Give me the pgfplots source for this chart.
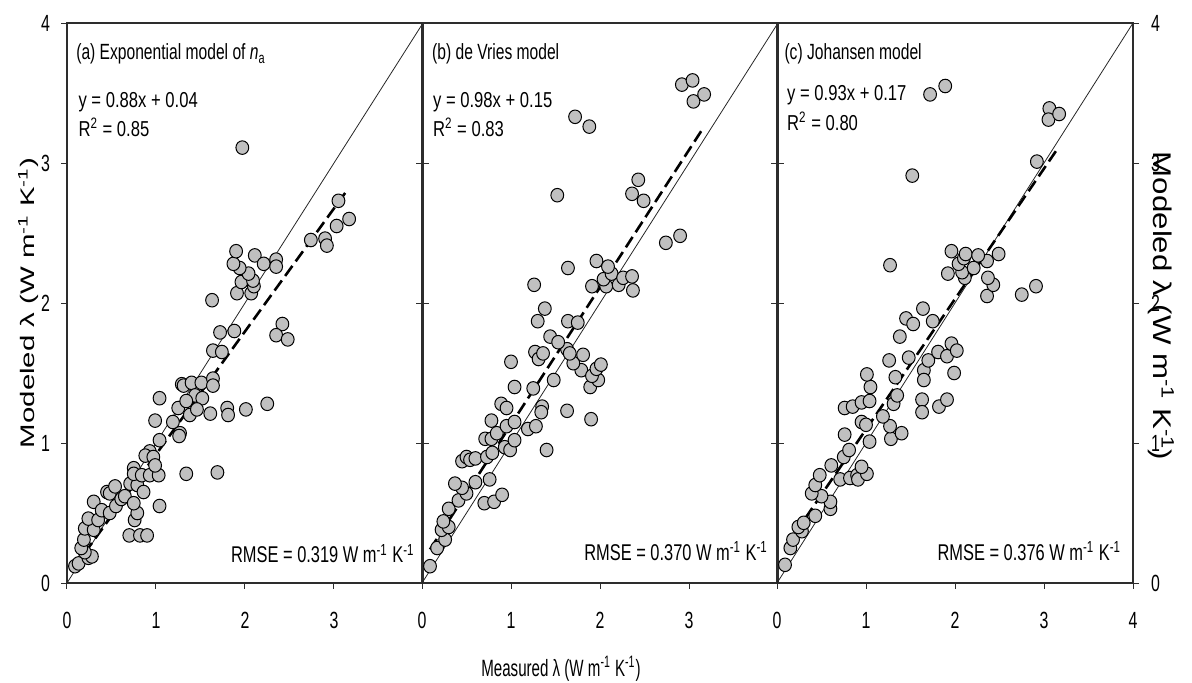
\documentclass[border=0pt]{standalone}
\usepackage{fontspec}
\setmainfont{Liberation Sans}[FakeStretch=0.77]
\newfontfamily\titlefont{Liberation Sans}[FakeStretch=0.71]
\newfontfamily\rmsefont{Liberation Sans}[FakeStretch=0.72]
\newfontfamily\tickfont{Liberation Sans}[FakeStretch=0.68]
\newfontfamily\xlabfont{Liberation Sans}[FakeStretch=0.64]
\newfontfamily\ylabfont{Liberation Sans}[FakeStretch=1.5]
\newfontfamily\ylabRfont{Liberation Sans}[FakeStretch=1.22]
\usepackage{pgfplots}
\pgfplotsset{compat=1.18}
\definecolor{ptgray}{RGB}{192,192,192}
\definecolor{frame}{RGB}{45,45,45}

\pgfplotsset{
  panel/.style={
    scale only axis, width=178pt, height=280pt,
    anchor=south west,
    xmin=0, xmax=4, ymin=0, ymax=4,
    ytick={0,1,2,3,4},
    tick align=outside,
    xtick pos=left,
    major tick length=2.8pt,
    axis line style={frame, line width=0.7pt},
    every tick/.style={frame, line width=0.5pt},
    /pgf/number format/assume math mode=true,
    tick label style={font=\tickfont\fontsize{11.7}{13}\selectfont, inner sep=0pt},
    xticklabel style={anchor=base, yshift=-20pt},
  },
  pts/.style={only marks, mark=*, mark size=3.2pt,
    mark options={fill=ptgray, draw=black, line width=0.5pt, yscale=1.06}},
  oneone/.style={black!85, line width=0.4pt},
  fit/.style={black, line width=1.3pt, dash pattern=on 6.2pt off 2.8pt},
}
\tikzset{lab/.style={inner sep=0pt}}
\newcommand{\txt}{\fontsize{10.8}{12}\selectfont}
\newcommand{\ttl}{\titlefont\fontsize{11}{12}\selectfont}
\newcommand{\rmse}{\rmsefont\fontsize{11.4}{12}\selectfont}
\newcommand{\unit}{W m\textsuperscript{-1} K\textsuperscript{-1}}

\begin{document}
\begin{tikzpicture}
\useasboundingbox (-33.5pt,-49.5pt) rectangle (562.5pt,291.5pt);

% (a) exponential model
\begin{axis}[panel, at={(0pt,0pt)}, xtick={0,1,2,3},
  yticklabel pos=left, yticklabel style={anchor=east, xshift=-5.5pt}]
\addplot[pts] coordinates {
(0.09,0.12)(0.13,0.14)(0.24,0.18)(0.28,0.19)(0.20,0.22)(0.16,0.25)(0.19,0.31)
(0.20,0.39)(0.30,0.38)(0.24,0.46)(0.35,0.45)(0.30,0.58)(0.39,0.52)(0.48,0.50)
(0.55,0.55)(0.45,0.65)(0.48,0.64)(0.54,0.69)(0.61,0.60)(0.65,0.62)(0.70,0.34)
(0.82,0.34)(0.90,0.34)(0.76,0.45)(0.79,0.50)(0.75,0.57)(1.04,0.55)(0.71,0.71)
(0.79,0.70)(0.86,0.65)(0.75,0.82)(0.75,0.78)(0.84,0.77)(0.93,0.77)(1.03,0.77)
(1.34,0.78)(1.69,0.79)(0.93,0.94)(0.88,0.91)(0.97,0.90)(0.99,0.84)(1.04,1.02)
(0.99,1.16)(1.19,1.15)(1.27,1.07)(1.26,1.05)(1.04,1.32)(1.25,1.25)(1.29,1.42)
(1.31,1.41)(1.40,1.43)(1.51,1.43)(1.64,1.46)(1.64,1.41)(1.44,1.34)(1.52,1.32)
(1.34,1.30)(1.38,1.20)(1.46,1.24)(1.61,1.21)(1.80,1.25)(1.81,1.20)(2.01,1.24)
(2.25,1.28)(1.64,1.66)(1.74,1.65)(1.72,1.79)(1.88,1.80)(2.42,1.85)(2.35,1.77)
(2.48,1.74)(1.63,2.02)(1.91,2.07)(2.07,2.07)(2.10,2.12)(1.96,2.15)(2.09,2.16)
(2.04,2.21)(1.94,2.25)(1.87,2.28)(1.90,2.37)(2.11,2.34)(2.21,2.28)(2.35,2.31)
(2.35,2.26)(2.74,2.45)(2.90,2.46)(2.92,2.41)(3.03,2.55)(3.17,2.60)(3.05,2.73)
(1.97,3.11)
};
\addplot[oneone] coordinates {(0,0)(4,4)};
\addplot[fit] coordinates {(0.08,0.11)(3.13,2.79)};
\node[lab, anchor=base west, font=\ttl] at (axis cs:0.10,3.736) {(a) Exponential model of \textit{n}\textsubscript{a}};
\node[lab, anchor=base west, font=\txt] at (axis cs:0.125,3.40) {y = 0.88x + 0.04};
\node[lab, anchor=base west, font=\txt] at (axis cs:0.125,3.19) {R\textsuperscript{2} = 0.85};
\node[lab, anchor=base east, font=\rmse] at (axis cs:3.91,0.143) {RMSE = 0.319 \unit};
\end{axis}

% (b) de Vries model
\begin{axis}[panel, at={(177.5pt,0pt)}, xtick={0,1,2,3}, yticklabels={}]
\addplot[pts] coordinates {
(0.09,0.12)(0.17,0.25)(0.26,0.31)(0.22,0.38)(0.30,0.40)(0.24,0.44)(0.30,0.53)
(0.41,0.59)(0.50,0.64)(0.45,0.68)(0.37,0.71)(0.60,0.72)(0.76,0.74)(0.70,0.57)
(0.81,0.58)(0.90,0.63)(0.45,0.87)(0.50,0.90)(0.54,0.88)(0.60,0.89)(0.73,0.90)
(0.79,0.93)(0.93,0.97)(0.99,0.95)(1.40,0.95)(0.71,1.03)(0.78,1.03)(0.84,1.07)
(1.04,1.02)(0.95,1.12)(0.78,1.16)(1.04,1.15)(1.19,1.10)(1.28,1.12)(0.89,1.28)
(0.95,1.25)(1.35,1.26)(1.34,1.22)(1.63,1.23)(1.90,1.17)(1.04,1.40)(1.25,1.39)
(1.48,1.45)(1.89,1.40)(1.98,1.45)(1.79,1.52)(1.91,1.48)(1.96,1.53)(2.01,1.56)
(1.00,1.58)(1.27,1.65)(1.31,1.60)(1.36,1.64)(1.70,1.57)(1.81,1.63)(1.63,1.67)
(1.66,1.64)(1.44,1.76)(1.53,1.72)(1.30,1.87)(1.64,1.87)(1.75,1.86)(1.38,1.96)
(1.26,2.13)(1.64,2.25)(1.91,2.12)(2.07,2.12)(2.04,2.17)(2.13,2.21)(2.21,2.13)
(2.26,2.18)(2.36,2.19)(2.37,2.09)(1.96,2.30)(2.09,2.26)(2.74,2.43)(2.90,2.48)
(1.52,2.77)(2.36,2.78)(2.43,2.88)(2.49,2.73)(1.72,3.33)(1.88,3.26)(2.92,3.56)
(3.04,3.59)(3.05,3.44)(3.17,3.49)
};
\addplot[oneone] coordinates {(0,0)(4,4)};
\addplot[fit] coordinates {(0.09,0.24)(3.17,3.26)};
\node[lab, anchor=base west, font=\ttl] at (axis cs:0.11,3.736) {(b) de Vries model};
\node[lab, anchor=base west, font=\txt] at (axis cs:0.12,3.40) {y = 0.98x + 0.15};
\node[lab, anchor=base west, font=\txt] at (axis cs:0.12,3.19) {R\textsuperscript{2} = 0.83};
\node[lab, anchor=base east, font=\rmse] at (axis cs:3.89,0.164) {RMSE = 0.370 \unit};
\end{axis}

% (c) Johansen model
\begin{axis}[panel, at={(355pt,0pt)}, xtick={0,1,2,3,4},
  yticklabel pos=right, yticklabel style={anchor=west, xshift=6pt}]
\addplot[pts] coordinates {
(0.09,0.13)(0.15,0.25)(0.18,0.31)(0.28,0.37)(0.24,0.40)(0.30,0.43)(0.43,0.48)
(0.60,0.53)(0.60,0.58)(0.50,0.62)(0.39,0.64)(0.43,0.70)(0.48,0.77)(0.71,0.74)
(0.82,0.75)(0.90,0.77)(0.91,0.74)(1.01,0.78)(0.95,0.83)(0.61,0.84)(0.75,0.90)
(0.81,0.95)(1.04,1.01)(0.76,1.06)(1.28,1.03)(1.40,1.07)(1.27,1.12)(0.95,1.15)
(1.00,1.13)(1.19,1.19)(0.76,1.25)(0.85,1.26)(0.95,1.29)(1.04,1.30)(1.31,1.28)
(1.35,1.34)(1.63,1.31)(1.63,1.22)(1.82,1.26)(1.91,1.31)(1.05,1.40)(1.01,1.49)
(1.33,1.47)(1.65,1.52)(1.65,1.45)(1.99,1.50)(1.26,1.59)(1.48,1.61)(1.70,1.59)
(1.81,1.65)(1.91,1.62)(1.96,1.71)(2.02,1.66)(1.38,1.76)(1.45,1.89)(1.53,1.85)
(1.75,1.87)(1.64,1.96)(2.36,2.05)(2.75,2.06)(2.91,2.12)(2.43,2.13)(2.37,2.18)
(2.11,2.18)(1.92,2.21)(2.08,2.22)(2.21,2.25)(2.04,2.28)(2.10,2.32)(2.36,2.30)
(1.96,2.37)(2.12,2.35)(2.26,2.34)(2.49,2.35)(1.27,2.27)(1.52,2.91)(2.92,3.01)
(3.06,3.39)(3.05,3.31)(3.17,3.35)(1.72,3.49)(1.89,3.55)
};
\addplot[oneone] coordinates {(0,0)(4,4)};
\addplot[fit] coordinates {(0.09,0.25)(3.15,3.10)};
\node[lab, anchor=base west, font=\ttl] at (axis cs:0.08,3.736) {(c) Johansen model};
\node[lab, anchor=base west, font=\txt] at (axis cs:0.11,3.45) {y = 0.93x + 0.17};
\node[lab, anchor=base west, font=\txt] at (axis cs:0.11,3.23) {R\textsuperscript{2} = 0.80};
\node[lab, anchor=base east, font=\rmse] at (axis cs:3.87,0.164) {RMSE = 0.376 \unit};
\end{axis}

% shared axis titles
\node[lab, anchor=base, font=\xlabfont\fontsize{11.8}{13}\selectfont] at (247pt,-46.5pt) {Measured λ (\unit)};
\node[lab, anchor=base, rotate=90, font=\ylabfont\fontsize{9.8}{11}\selectfont] at (-16pt,140pt) {Modeled λ (\unit)};
\node[lab, anchor=base, rotate=-90, font=\ylabRfont\fontsize{12.8}{14}\selectfont] at (543pt,138.5pt) {Modeled λ (\unit)};
\end{tikzpicture}
\end{document}
